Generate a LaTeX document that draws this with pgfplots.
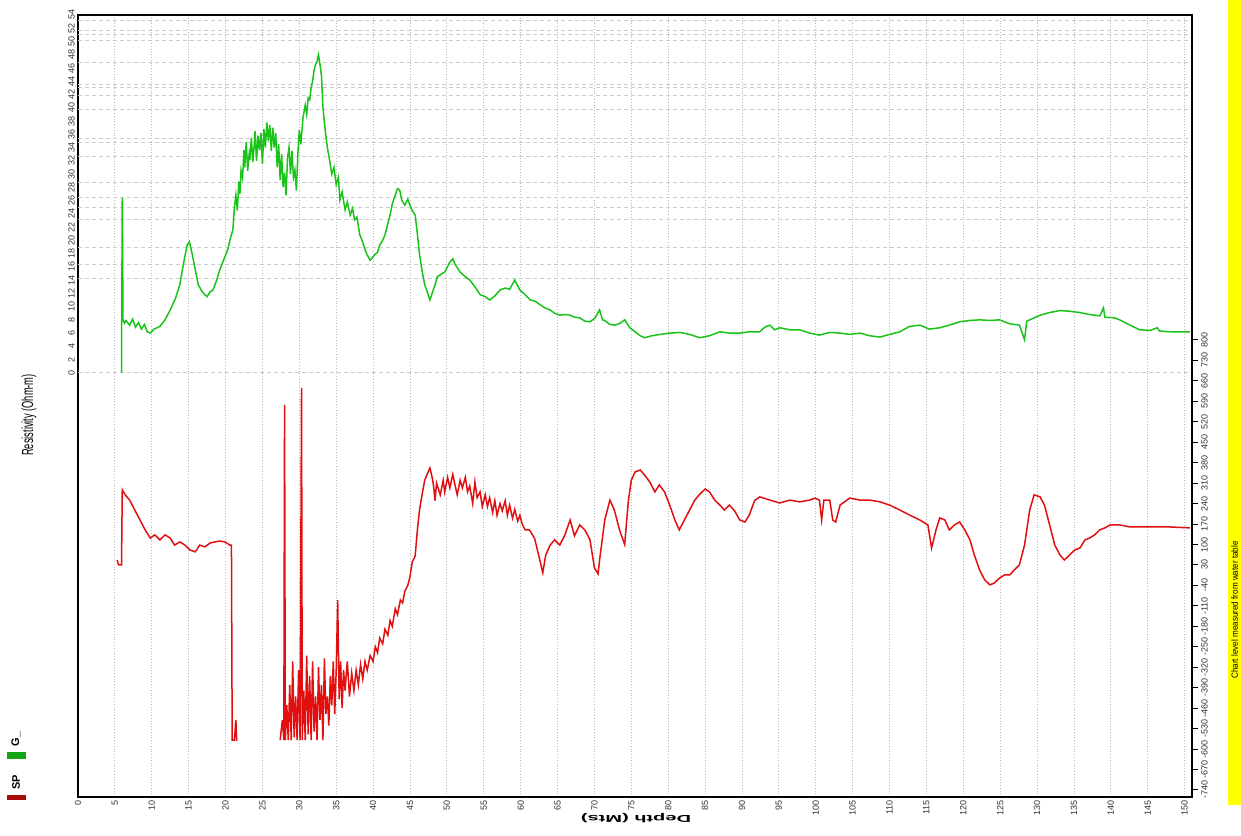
\documentclass[border=0pt]{standalone}
\usepackage{fontspec}
\setmainfont{Liberation Sans}
\usepackage{pgfplots}
\pgfplotsset{compat=1.18}
\definecolor{resgreen}{RGB}{25,195,25}
\definecolor{spred}{RGB}{225,15,15}
\definecolor{bandyellow}{RGB}{255,255,0}

\begin{document}
\begin{tikzpicture}[font=\fontsize{4.5}{5}\selectfont]
\useasboundingbox (-39pt,-19pt) rectangle (581.5pt,398.5pt);
\pgfplotsset{every axis/.append style={scale only axis, width=557pt, height=391pt,
  xmin=0, xmax=151, at={(0,0)}, anchor=south west,
  /pgf/number format/assume math mode=true}}

% resistivity track (upper part of the frame)
\begin{axis}[
  ymin=-64, ymax=54,
  axis line style={line width=1.1pt},
  xtick={0,5,...,150},
  ytick={0,2,...,54},
  major tick length=0pt,
  xmajorgrids,
  major grid style={densely dotted, gray!55},
  extra y ticks={0,14.3,16.4,18.9,23.1,24.9,26.5,28.7,32.6,34.7,35.4,39.7,41.9,43.0,43.6,46.8,50.2,51.1,51.7,53.2},
  extra y tick labels={},
  extra y tick style={ymajorgrids=true, major grid style={dash pattern=on 2pt off 1.5pt, gray!40}},
  xticklabel style={rotate=90, anchor=east, inner sep=1.5pt, text=black!80},
  yticklabel style={rotate=90, anchor=south, inner sep=1.5pt, text=black!80},
]
\addplot[resgreen, line width=0.75pt] coordinates {
(5.9,0)(6.0,26.4)(6.1,8)(6.3,7.5)
(6.5,7.9)(7.0,7.2)(7.4,8.1)(7.8,6.9)(8.2,7.6)(8.6,6.6)(9.0,7.3)(9.4,6.2)(9.8,6.0)(10.3,6.6)
(11.1,7.0)(11.8,8.0)(12.5,9.5)(13.2,11.2)(13.8,13.3)(14.3,16.5)(14.8,19.3)(15.1,19.8)(15.5,17.8)
(16.0,15.0)(16.3,13.3)(16.8,12.3)(17.2,11.8)(17.5,11.5)(17.9,12.2)(18.3,12.5)(18.8,14.0)(19.2,15.5)
(19.8,17.2)(20.3,18.6)(20.7,20.5)(21.0,21.6)(21.2,25)(21.4,26.8)(21.6,24.5)(21.8,28.9)(21.95,27.0)
(22.1,30.5)(22.3,29.4)(22.5,33.6)(22.6,31.0)(22.8,34.8)(23.0,30.5)(23.2,33.0)(23.3,32.1)(23.5,35.5)
(23.7,31.8)(23.9,34.4)(24.0,36.5)(24.2,32.0)(24.4,35.8)(24.6,33.6)(24.8,36.2)(25.0,31.5)(25.2,36.8)
(25.4,34.0)(25.6,37.8)(25.8,35.0)(26.0,37.4)(26.2,33.5)(26.4,37.0)(26.6,34.0)(26.8,36.2)(27.0,31.0)
(27.2,34.5)(27.4,29.1)(27.6,33.0)(27.8,28.0)(28.0,30.2)(28.2,26.8)(28.4,32.5)(28.6,34.0)(28.8,30.0)
(29.0,33.5)(29.2,29.5)(29.4,30.6)(29.6,27.5)(29.8,33.0)(30.0,36.7)(30.2,34.5)(30.5,38.5)(30.8,40.4)
(31.0,39.0)(31.2,41.5)(31.4,41.2)(31.6,43.0)(31.8,44.0)(32.0,45.7)(32.2,46.5)(32.4,47.0)(32.6,48.0)
(32.8,46.5)(33.0,44.9)(33.2,40.0)(33.5,36.7)(33.8,34.0)(34.1,32.1)(34.4,30.0)(34.7,31.0)(35.0,28.4)
(35.3,29.5)(35.5,26.1)(35.8,27.3)(36.2,24.6)(36.5,25.8)(36.9,23.8)(37.2,24.8)(37.5,23.1)(37.8,23.5)
(38.2,20.8)(38.5,20.0)(38.9,18.6)(39.2,17.8)(39.6,17.0)(40.0,17.5)(40.2,17.8)(40.6,18.2)(40.9,19.3)
(41.3,20.0)(41.6,20.8)(42.0,22.5)(42.3,23.8)(42.6,25.5)(43.0,26.8)(43.3,27.8)(43.6,27.6)(43.9,26.0)
(44.3,25.3)(44.7,26.2)(45.0,25.3)(45.3,24.5)(45.7,23.8)(46.0,21.0)(46.3,17.8)(46.7,15.0)(47.0,13.3)
(47.4,12.0)(47.7,11.0)(48.0,12.0)(48.4,13.3)(48.7,14.5)(49.1,14.8)(49.7,15.2)(50.4,16.7)(50.8,17.2)
(51.1,16.4)(51.8,15.2)(52.5,14.5)(53.1,14.0)(53.8,13.0)(54.5,11.8)(55.2,11.5)(55.8,11.0)(56.5,11.6)
(57.2,12.5)(57.9,12.8)(58.5,12.6)(59.2,14.0)(59.9,12.5)(60.6,11.8)(61.3,11.0)(62.0,10.8)(62.6,10.3)
(63.3,9.8)(64.0,9.5)(64.6,9.0)(65.3,8.7)(66.0,8.8)(66.7,8.7)(67.3,8.4)(68.0,8.3)(68.7,7.8)(69.4,7.7)
(70.1,8.3)(70.7,9.5)(71.1,8.0)(71.4,7.9)(72.1,7.3)(72.8,7.2)(73.5,7.5)(74.1,8.0)(74.8,6.8)(75.5,6.2)
(76.2,5.6)(76.8,5.3)(77.8,5.6)(78.9,5.8)(80.2,6.0)(81.6,6.1)(82.9,5.8)(84.3,5.3)(85.6,5.6)(87.0,6.2)
(88.3,6.0)(89.7,6.0)(91.0,6.2)(92.4,6.2)(93.1,6.9)(93.8,7.2)(94.4,6.5)(95.1,6.8)(96.5,6.5)(97.8,6.5)
(99.2,6.0)(100.5,5.7)(101.9,6.1)(103.3,6.0)(104.6,5.8)(106.0,6.0)(107.3,5.6)(108.7,5.4)(110.0,5.8)
(111.4,6.2)(112.7,7.0)(114.1,7.2)(115.4,6.6)(116.8,6.8)(118.1,7.2)(119.5,7.7)(120.9,7.9)(122.2,8.0)
(123.6,7.9)(124.9,8.0)(126.3,7.4)(127.6,7.2)(128.3,5.0)(128.6,7.8)(129.0,8.0)(130.4,8.7)(131.7,9.1)
(133.1,9.4)(134.4,9.3)(135.8,9.1)(137.1,8.8)(138.5,8.6)(139.0,9.8)(139.2,8.4)(140.5,8.3)(141.2,8.0)
(142.6,7.2)(143.9,6.5)(145.3,6.4)(146.3,6.8)(146.6,6.3)(148.0,6.2)(150.7,6.2)
};
\end{axis}

% SP track (lower part of the frame)
\begin{axis}[
  ymin=-764, ymax=1912,
  axis x line=none, axis y line*=right,
  axis line style={line width=1.1pt},
  ytick={-740,-670,-600,-530,-460,-390,-320,-250,-180,-110,-40,30,100,170,240,310,380,450,520,590,660,730,800},
  tick align=outside, major tick length=3pt,
  tick style={black, line width=0.5pt},
  yticklabel style={rotate=90, anchor=north, inner sep=1.5pt, text=black!80},
]
\addplot[spred, line width=0.75pt] coordinates {
(5.3,47)(5.5,30)(5.9,30)(6.0,287)(6.4,270)(7.0,252)(7.7,218)(8.4,184)(9.1,150)(9.8,122)(10.4,133)
(11.1,116)(11.8,133)(12.5,122)(13.1,98)(13.8,109)(14.5,98)(15.2,81)(15.9,75)(16.5,98)(17.2,92)
(17.9,105)(18.6,109)(19.2,112)(19.9,109)(20.6,98)(20.8,98)(20.9,-569)(21.2,-569)(21.4,-500)(21.5,-569)(21.6,-569)
};
\addplot[spred, line width=0.75pt] coordinates {
(27.4,-569)(27.7,-500)(27.9,-569)(28.0,578)(28.1,-569)(28.3,-450)(28.5,-569)(28.7,-380)(28.9,-569)
(29.1,-300)(29.3,-560)(29.5,-420)(29.7,-569)(29.9,-330)(30.1,-569)(30.3,636)(30.4,-569)(30.6,-400)
(30.8,-569)(31.0,-280)(31.2,-550)(31.4,-350)(31.6,-569)(31.8,-300)(32.0,-540)(32.2,-420)(32.4,-569)
(32.6,-320)(32.8,-500)(33.0,-380)(33.2,-569)(33.4,-290)(33.6,-480)(33.8,-420)(34.0,-520)(34.2,-350)
(34.4,-450)(34.6,-300)(34.8,-480)(35.0,-330)(35.2,-90)(35.4,-430)(35.6,-300)(35.8,-460)(36.0,-330)
(36.2,-400)(36.5,-300)(36.8,-420)(37.1,-340)(37.4,-400)(37.7,-330)(38.0,-380)(38.3,-310)(38.6,-360)
(38.9,-300)(39.2,-330)(39.6,-280)(40.0,-300)(40.3,-250)(40.6,-270)(40.9,-220)(41.3,-240)(41.6,-190)
(42.0,-210)(42.3,-160)(42.6,-180)(43.0,-120)(43.3,-140)(43.7,-90)(44.0,-100)(44.3,-60)(44.7,-40)
(45.0,-10)(45.3,40)(45.7,60)(46.0,150)(46.3,220)(46.7,280)(47.0,320)(47.4,345)(47.7,362)(48.0,330)
(48.2,300)(48.4,250)(48.6,310)(49.1,270)(49.5,320)(49.7,280)(50.1,330)(50.4,294)(50.8,340)(51.1,304)
(51.4,270)(51.8,320)(52.1,294)(52.5,330)(52.8,280)(53.1,300)(53.5,240)(53.8,314)(54.1,260)(54.5,280)
(54.8,230)(55.2,270)(55.5,230)(55.8,260)(56.2,210)(56.5,250)(56.8,200)(57.2,240)(57.5,215)(57.9,250)
(58.2,200)(58.5,235)(58.9,190)(59.2,220)(59.6,180)(59.9,200)(60.2,170)(60.6,150)(61.2,150)(61.9,120)
(62.6,47)(63.0,3)(63.4,64)(64.0,98)(64.6,116)(65.3,98)(66.0,133)(66.7,184)(67.3,130)(68.0,167)
(68.7,150)(69.4,116)(70.0,20)(70.5,0)(70.7,47)(71.4,184)(72.1,252)(72.7,218)(73.4,150)(74.1,100)
(74.6,250)(75.0,320)(75.5,348)(76.2,355)(76.8,338)(77.5,314)(78.2,280)(78.8,304)(79.5,280)(80.2,235)
(80.9,184)(81.5,150)(82.2,184)(82.9,218)(83.6,252)(84.2,270)(85.0,290)(85.6,280)(86.3,252)(87.0,235)
(87.6,218)(88.3,235)(89.0,215)(89.7,184)(90.4,177)(91.0,201)(91.7,250)(92.4,263)(93.8,252)(95.1,242)
(96.5,252)(97.8,246)(99.2,252)(99.9,259)(100.5,252)(100.8,184)(101.1,252)(101.9,252)(102.3,184)
(102.7,177)(103.3,235)(104.6,259)(106.0,252)(107.3,252)(108.7,246)(110.0,235)(111.4,218)(112.7,201)
(114.1,184)(115.2,167)(115.7,88)(116.3,150)(116.8,191)(117.5,184)(118.1,150)(118.8,167)(119.5,177)
(120.2,150)(120.9,116)(121.5,64)(122.2,13)(122.9,-21)(123.6,-38)(124.2,-32)(124.9,-15)(125.6,-4)
(126.3,-4)(126.9,13)(127.6,30)(128.3,98)(129.0,218)(129.6,270)(130.4,263)(131.0,235)(131.7,167)
(132.4,98)(133.1,64)(133.7,47)(134.4,64)(135.1,81)(135.8,88)(136.5,116)(137.1,122)(137.8,133)
(138.5,150)(139.2,157)(139.9,167)(141.2,167)(142.6,160)(145.3,160)(148.0,160)(150.7,157)
};
\end{axis}

% axis titles, legend and side band
\node[rotate=180] at (279pt,-10.5pt)
  {\scalebox{2}[1]{\fontsize{5}{6}\selectfont\bfseries Depth (Mts)}};
\node[rotate=90] at (-24.5pt,191pt)
  {\scalebox{0.58}[1]{\fontsize{8}{9}\selectfont Resistivity (Ohm-m)}};
\fill[bandyellow] (575pt,-4pt) rectangle (581.5pt,398.5pt);
\node[rotate=90] at (578.3pt,93.5pt)
  {\scalebox{0.9}[1]{\fontsize{4.5}{5}\selectfont Chart level measured from water table}};
\fill[resgreen!85!black] (-35.5pt,22.5pt) rectangle (-26pt,19pt);
\node[rotate=90, font=\fontsize{5.5}{6}\selectfont\bfseries] at (-31pt,29pt) {G\_};
\fill[spred!75!black] (-35.5pt,1pt) rectangle (-26pt,-1.5pt);
\node[rotate=90, font=\fontsize{5.5}{6}\selectfont\bfseries] at (-31pt,7.5pt) {SP};
\end{tikzpicture}
\end{document}
